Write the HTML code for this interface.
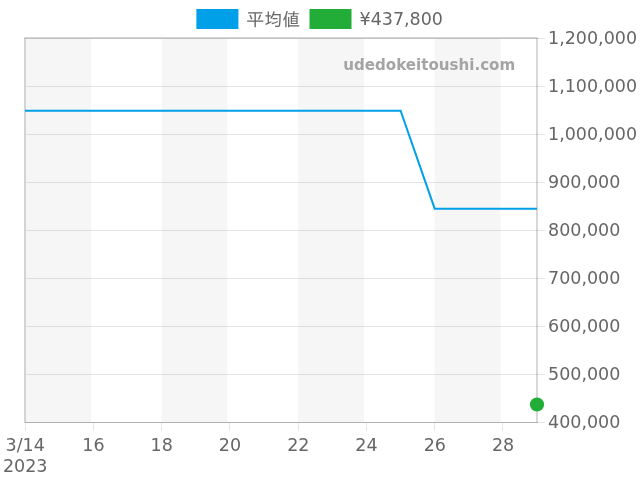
<!DOCTYPE html>
<html lang="ja">
<head>
<meta charset="utf-8">
<title>chart</title>
<style>
html,body{margin:0;padding:0;background:#fff;}
body{width:640px;height:480px;overflow:hidden;}
svg{display:block;}
text{font-family:"DejaVu Sans","Liberation Sans","Noto Sans CJK JP",sans-serif;font-size:17.5px;fill:#666;}
.wm{font-weight:bold;font-size:15.1px;fill:#a4a4a4;}
</style>
</head>
<body>
<svg width="640" height="480" viewBox="0 0 640 480">
<!-- bands -->
<g fill="#f6f6f6">
<rect x="26.00" y="39" width="64.90" height="383"/>
<rect x="161.53" y="39" width="65.90" height="383"/>
<rect x="298.07" y="39" width="65.90" height="383"/>
<rect x="434.60" y="39" width="65.90" height="383"/>
</g>
<!-- borders -->
<rect x="25" y="37" width="512" height="1" fill="#d4d4d4"/>
<rect x="24" y="37" width="1" height="1" fill="#e6e6e6"/>
<rect x="537" y="37" width="1" height="1" fill="#e9e9e9"/>
<rect x="24" y="38" width="514" height="1" fill="#c2c2c2"/>
<rect x="25" y="38" width="1" height="1" fill="#b2b2b2"/>
<rect x="536" y="38" width="2" height="1" fill="#b4b4b4"/>
<rect x="24" y="39" width="2" height="384" fill="#d4d4d4"/>
<rect x="536" y="39" width="2" height="384" fill="#d8d8d8"/>
<rect x="25" y="422" width="513" height="1" fill="#b0b0b0"/>
<rect x="24" y="422" width="1" height="1" fill="#cfcfcf"/>
<!-- grid -->
<g fill="#000" fill-opacity="0.1">
<rect x="26" y="86" width="519" height="1"/>
<rect x="26" y="134" width="519" height="1"/>
<rect x="26" y="182" width="519" height="1"/>
<rect x="26" y="230" width="519" height="1"/>
<rect x="26" y="278" width="519" height="1"/>
<rect x="26" y="326" width="519" height="1"/>
<rect x="26" y="374" width="519" height="1"/>
<rect x="538" y="38" width="7" height="1"/>
<rect x="538" y="422" width="7" height="1"/>
<rect x="25" y="423" width="1" height="8"/>
<rect x="93" y="423" width="1" height="8"/>
<rect x="161" y="423" width="1" height="8"/>
<rect x="229" y="423" width="1" height="8"/>
<rect x="298" y="423" width="1" height="8"/>
<rect x="366" y="423" width="1" height="8"/>
<rect x="434" y="423" width="1" height="8"/>
<rect x="502" y="423" width="1" height="8"/>
</g>
<!-- line -->
<polyline points="25,110.75 400.6,110.75 434.7,208.7 537,208.7" fill="none" stroke="#00a0e9" stroke-width="2" stroke-linejoin="miter"/>
<circle cx="537" cy="404.5" r="7.1" fill="#22ac38"/>
<!-- legend -->
<rect x="196.4" y="9" width="42" height="20" fill="#00a0e9"/>
<text x="246.3" y="25.5" style="font-family:'DejaVu Sans','Liberation Sans','IPAGothic',sans-serif;font-size:18px">平均値</text>
<rect x="309.5" y="9" width="42" height="20" fill="#22ac38"/>
<text x="359.5" y="25.4">¥437,800</text>
<text class="wm" x="343.2" y="70.3">udedokeitoushi.com</text>
<!-- y labels -->
<g>
<text x="548" y="44">1,200,000</text>
<text x="548" y="92">1,100,000</text>
<text x="548" y="140">1,000,000</text>
<text x="548" y="188">900,000</text>
<text x="548" y="236">800,000</text>
<text x="548" y="284">700,000</text>
<text x="548" y="332">600,000</text>
<text x="548" y="380">500,000</text>
<text x="548" y="428">400,000</text>
</g>
<g text-anchor="middle">
<text x="25.2" y="451">3/14</text>
<text x="25.2" y="472">2023</text>
<text x="93.5" y="451">16</text>
<text x="161.7" y="451">18</text>
<text x="230.0" y="451">20</text>
<text x="298.3" y="451">22</text>
<text x="366.5" y="451">24</text>
<text x="434.8" y="451">26</text>
<text x="503.1" y="451">28</text>
</g>
</svg>
</body>
</html>
